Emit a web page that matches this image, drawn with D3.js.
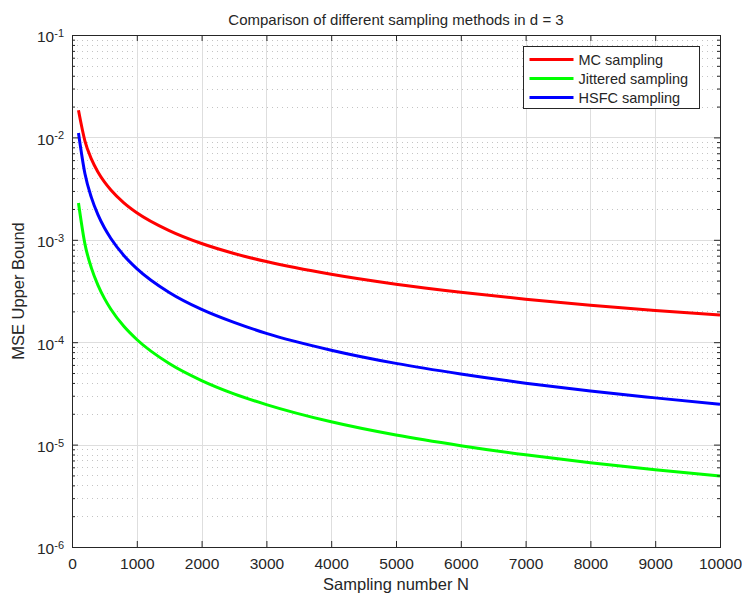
<!DOCTYPE html>
<html>
<head>
<meta charset="utf-8">
<title>Comparison of different sampling methods</title>
<style>
  body { margin: 0; background: #fff; }
  text { font-family: "Liberation Sans", Arial, Helvetica, sans-serif; fill: #262626; }
</style>
</head>
<body>
<script src="https://cdn.jsdelivr.net/npm/d3@7"></script>
<script>
// sample sizes
var sampleN = [100, 200, 300, 400, 500, 600, 800, 1000, 1500, 2000, 2500, 3000,
               4000, 5000, 6000, 7000, 8000, 9000, 10000];

// MSE upper bound estimates
var mcValues = [1.84e-2, 9.2e-3, 6.13e-3, 4.6e-3, 3.68e-3, 3.07e-3, 2.3e-3, 1.84e-3,
                1.23e-3, 9.2e-4, 7.36e-4, 6.13e-4, 4.6e-4, 3.68e-4, 3.07e-4,
                2.63e-4, 2.3e-4, 2.04e-4, 1.84e-4];
var jitteredValues = [2.29e-3, 9.08e-4, 5.29e-4, 3.61e-4, 2.68e-4, 2.10e-4, 1.43e-4,
                      1.063e-4, 6.19e-5, 4.22e-5, 3.13e-5, 2.46e-5, 1.67e-5, 1.24e-5,
                      9.76e-6, 7.94e-6, 6.64e-6, 5.68e-6, 4.93e-6];
var hsfcValues = [1.104e-2, 4.41e-3, 2.58e-3, 1.76e-3, 1.31e-3, 1.03e-3, 7.04e-4,
                  5.24e-4, 3.06e-4, 2.09e-4, 1.56e-4, 1.22e-4, 8.36e-5, 6.21e-5,
                  4.89e-5, 3.98e-5, 3.33e-5, 2.86e-5, 2.48e-5];

var seriesNames = ["MC sampling", "Jittered sampling", "HSFC sampling"];
var seriesColors = ["#ff0000", "#00ff00", "#0000ff"];
var xTicks = [0, 1000, 2000, 3000, 4000, 5000, 6000, 7000, 8000, 9000, 10000];
var yDecades = [-6, -5, -4, -3, -2, -1];

var W = 742, H = 595;
var margin = {top: 35, right: 22, bottom: 48, left: 72},
    width = W - margin.left - margin.right,
    height = H - margin.top - margin.bottom;

var svg = d3.select("body").append("svg")
    .attr("width", W)
    .attr("height", H);

var g = svg.append("g")
    .attr("transform", "translate(" + margin.left + "," + margin.top + ")");

var x = d3.scaleLinear().domain([0, 10000]).range([0, width]);
var y = d3.scaleLog().domain([1e-6, 1e-1]).range([height, 0]);

// minor y values (2..9 of each decade)
var minorY = [];
yDecades.slice(0, -1).forEach(function(e) {
  for (var k = 2; k <= 9; k++) minorY.push(k * Math.pow(10, e));
});

// minor grid, dotted
g.append("g").selectAll("line")
    .data(minorY)
  .enter().append("line")
    .attr("x1", 0).attr("x2", width)
    .attr("y1", function(d) { return Math.round(y(d)) + 0.5; })
    .attr("y2", function(d) { return Math.round(y(d)) + 0.5; })
    .attr("stroke", "#c4c4c4")
    .attr("stroke-width", 1)
    .attr("stroke-dasharray", "1,4");

// major grid
g.append("g").selectAll("line")
    .data(xTicks)
  .enter().append("line")
    .attr("x1", function(d) { return Math.round(x(d)) + 0.5; })
    .attr("x2", function(d) { return Math.round(x(d)) + 0.5; })
    .attr("y1", 0).attr("y2", height)
    .attr("stroke", "#dedede");

g.append("g").selectAll("line")
    .data(yDecades)
  .enter().append("line")
    .attr("x1", 0).attr("x2", width)
    .attr("y1", function(d) { return Math.round(y(Math.pow(10, d))) + 0.5; })
    .attr("y2", function(d) { return Math.round(y(Math.pow(10, d))) + 0.5; })
    .attr("stroke", "#dedede");

// data lines
var allSeries = [mcValues, jitteredValues, hsfcValues];
var line = d3.line()
    .x(function(d, i) { return x(sampleN[i]); })
    .y(function(d) { return y(d); })
    .curve(d3.curveMonotoneX);

allSeries.forEach(function(vals, i) {
  g.append("path")
      .datum(vals)
      .attr("fill", "none")
      .attr("stroke", seriesColors[i])
      .attr("stroke-width", 3)
      .attr("d", line);
});

// axes, ticks inside, box on
var axisColor = "#262626";
function styleAxis(sel) {
  sel.select(".domain").attr("stroke", axisColor);
  sel.selectAll(".tick line").attr("stroke", axisColor);
}

var yTickVals = yDecades.map(function(e) { return Math.pow(10, e); });

g.append("g")
    .attr("transform", "translate(0," + height + ")")
    .call(d3.axisBottom(x).tickValues(xTicks).tickSizeInner(-6).tickSizeOuter(0).tickFormat(d3.format("d")))
    .call(styleAxis)
    .call(function(s) {
      s.selectAll(".tick text").attr("dy", "1.2em").style("font-size", "15.5px").attr("fill", axisColor);
    });

g.append("g")
    .call(d3.axisTop(x).tickValues(xTicks).tickSizeInner(-6).tickSizeOuter(0).tickFormat(""))
    .call(styleAxis);

g.append("g")
    .call(d3.axisLeft(y).tickValues(minorY).tickSizeInner(-3).tickSizeOuter(0).tickFormat(""))
    .call(styleAxis);
g.append("g")
    .attr("transform", "translate(" + width + ",0)")
    .call(d3.axisRight(y).tickValues(minorY).tickSizeInner(-3).tickSizeOuter(0).tickFormat(""))
    .call(styleAxis);

var yl = g.append("g")
    .call(d3.axisLeft(y).tickValues(yTickVals).tickSizeInner(-6).tickSizeOuter(0).tickFormat(""))
    .call(styleAxis);
g.append("g")
    .attr("transform", "translate(" + width + ",0)")
    .call(d3.axisRight(y).tickValues(yTickVals).tickSizeInner(-6).tickSizeOuter(0).tickFormat(""))
    .call(styleAxis);

// y tick labels: 10^e
yl.selectAll(".tick").each(function(d) {
  var t = d3.select(this).append("text")
      .attr("x", -8)
      .attr("dy", "0.45em")
      .attr("text-anchor", "end")
      .style("font-size", "15.5px")
      .attr("fill", axisColor);
  t.append("tspan").text("10");
  t.append("tspan")
      .attr("dy", "-0.5em")
      .style("font-size", "11px")
      .text(String(Math.round(Math.log10(d))));
});

// box
g.append("rect")
    .attr("x", 0.5).attr("y", 0.5)
    .attr("width", width).attr("height", height)
    .attr("fill", "none")
    .attr("stroke", axisColor);

// title and labels
svg.append("text")
    .attr("x", margin.left + width / 2)
    .attr("y", 25)
    .attr("text-anchor", "middle")
    .style("font-size", "15px")
    .text("Comparison of different sampling methods in d = 3");

svg.append("text")
    .attr("x", margin.left + width / 2)
    .attr("y", 590)
    .attr("text-anchor", "middle")
    .style("font-size", "16.5px")
    .text("Sampling number N");

svg.append("text")
    .attr("transform", "translate(24," + (margin.top + height / 2) + ") rotate(-90)")
    .attr("text-anchor", "middle")
    .style("font-size", "16.5px")
    .text("MSE Upper Bound");

// legend
var legend = svg.append("g").attr("transform", "translate(523.5,46.5)");
legend.append("rect")
    .attr("width", 176).attr("height", 62)
    .attr("fill", "#fff")
    .attr("stroke", axisColor);

var items = legend.selectAll(".item")
    .data(seriesNames)
  .enter().append("g")
    .attr("transform", function(d, i) { return "translate(0," + (13 + i * 19) + ")"; });
items.append("line")
    .attr("x1", 6).attr("x2", 50)
    .attr("stroke", function(d, i) { return seriesColors[i]; })
    .attr("stroke-width", 3);
items.append("text")
    .attr("x", 55)
    .attr("dy", "0.35em")
    .style("font-size", "14.5px")
    .attr("fill", "#000")
    .text(function(d) { return d; });
</script>
</body>
</html>
